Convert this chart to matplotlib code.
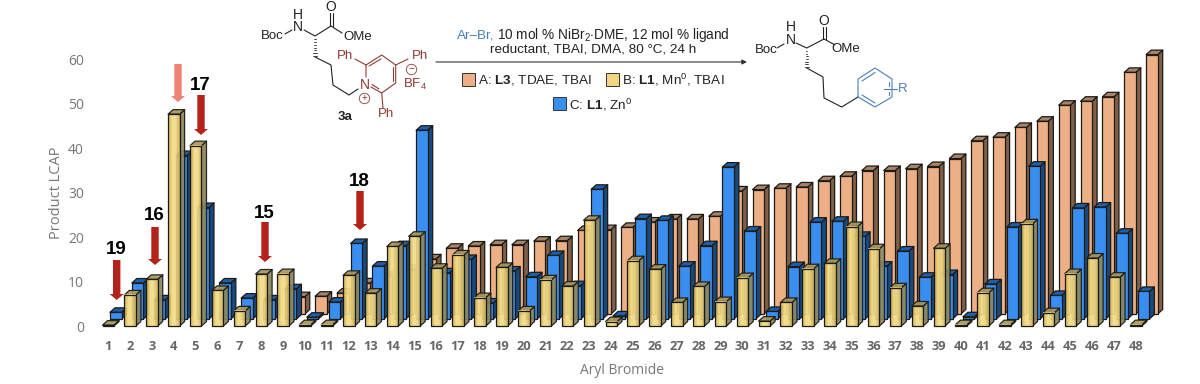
import matplotlib
matplotlib.use("Agg")
import matplotlib.pyplot as plt
from matplotlib.patches import Polygon, Rectangle
from matplotlib.colors import LinearSegmentedColormap

plt.rcParams['font.family'] = ['Liberation Sans', 'DejaVu Sans']
plt.rcParams['mathtext.fontset'] = 'custom'
plt.rcParams['mathtext.rm'] = 'Liberation Sans'
plt.rcParams['mathtext.bf'] = 'Liberation Sans:bold'

bromides = list(range(1, 49))
yticks = [0, 10, 20, 30, 40, 50, 60]

# front face height of each bar
series_a = [0, 0, 0, 0, 0, 0, 0, 0, 3.9, 4, 4.7, 7, 8.5, 10, 12.4, 14.8,
            15.3, 15.6, 15.6, 16.4, 16.5, 18.8, 19, 19.5, 20.7, 21.4, 21.4, 22,
            27.7, 28, 28.3, 28.6, 30, 31, 32.3, 32.3, 32.7, 33.2, 35, 39,
            39.8, 42, 43.4, 47, 47.9, 48.9, 54.4, 58.4]
series_b = [0.2, 7, 10.5, 47.7, 40.6, 8, 3.4, 11.7, 11.8, 0.3, 0.3, 11.4, 7.4, 17.9, 20.2, 13,
            16, 6.4, 13.2, 3.4, 10.4, 9, 23.8, 1, 14.7, 12.8, 5.3, 8.9, 5.5, 10.9, 1.1, 5.3,
            12.9, 14.1, 22.4, 17.4, 8.6, 4.5, 17.5, 0.3, 7.5, 0.3, 23, 3, 11.8, 15.3, 11, 0.3]
series_c = [1.5, 8.1, 4.3, 36.8, 25.1, 8.1, 4.7, 4.3, 6.8, 0.4, 3.8, 17, 11.9, 16.5, 42.5, 10.4,
            13.4, 3.6, 10.8, 9.5, 14.3, 7.5, 29.2, 0.7, 22.6, 22.2, 11.9, 16.5, 34.2, 19.8, 1.7, 11.8,
            21.8, 22, 18.6, 11.9, 15.3, 9.4, 10, 0.5, 7.9, 20.7, 34.4, 5.3, 25, 25.2, 19.3, 6.2]

# px per unit of the picture
PX_X = 21.87
PX_Y = 4.44
W, H = 1200, 384
bar_w = 11.5 / PX_X
dep_x = 5.0 / PX_X
dep_y = 4.5 / PX_Y

fig = plt.figure(figsize=(12, 3.84), dpi=100)
left, right = 95, 1170
ax = fig.add_axes([left / W, (H - 326) / H, (right - left) / W, (326 - 59.5) / H])
ax.set_xlim(1 + (left - 108) / PX_X, 1 + (right - 108) / PX_X)
ax.set_ylim(0, 60)
ax.autoscale(False)
for s in ax.spines.values():
    s.set_visible(False)
ax.patch.set_alpha(0)

gold = LinearSegmentedColormap.from_list('gold', ['#D8BA60', '#F3DC88', '#F3DC88', '#D8BA60'])


def bar3d(x, v, off_x, off_y, front, side, top, alpha, z):
    x0 = x - 5.5 / PX_X + off_x
    x1 = x0 + bar_w
    y0 = off_y
    y1 = off_y + v
    kw = dict(edgecolor='#1c1a14', linewidth=0.9, alpha=alpha, clip_on=False, zorder=z, joinstyle='round')
    ax.add_patch(Polygon([(x1, y0), (x1 + dep_x, y0 + dep_y), (x1 + dep_x, y1 + dep_y), (x1, y1)],
                         facecolor=side, **kw))
    ax.add_patch(Polygon([(x0, y1), (x0 + dep_x, y1 + dep_y), (x1 + dep_x, y1 + dep_y), (x1, y1)],
                         facecolor=top, **kw))
    if front == 'gold':
        ax.imshow([[0, 0.33, 0.67, 1]], cmap=gold, extent=(x0, x1, y0, y1), aspect='auto',
                  interpolation='bilinear', alpha=alpha, clip_on=False, zorder=z)
        ax.add_patch(Rectangle((x0, y0), bar_w, v, facecolor='none', edgecolor='#1c1a14', linewidth=0.9,
                               clip_on=False, zorder=z))
    else:
        ax.add_patch(Rectangle((x0, y0), bar_w, v, facecolor=front, **kw))


for x, v in zip(bromides, series_a):
    if v > 0:
        bar3d(x, v, 15.8 / PX_X, 12 / PX_Y, '#EDAF85', '#7E6049', '#A5846A', 1, 2)
for x, v in zip(bromides, series_c):
    bar3d(x, v, 7.5 / PX_X, 7 / PX_Y, '#3A8EF0', '#17497F', '#1E5FA8', 1, 3)
for x, v in zip(bromides, series_b):
    bar3d(x, v, 0, 0, 'gold', '#8C8860', '#A7975F', 0.93, 4)

ax.set_xticks(bromides)
ax.set_xticklabels(bromides, family='Open Sans', fontweight='bold', fontsize=9.3, color='#666666')
ax.set_yticks(yticks)
ax.set_yticklabels(yticks, family='Open Sans', fontsize=10, color='#777777')
ax.tick_params(axis='x', length=0, pad=10)
ax.tick_params(axis='y', length=0, pad=8)

# scheme on top, in pixel coordinates of the picture
ov = fig.add_axes([0, 0, 1, 1], zorder=10)
ov.set_xlim(0, W)
ov.set_ylim(H, 0)
ov.axis('off')

ov.text(57, 193, 'Product LCAP', rotation=90, ha='center', va='center', family='Open Sans', fontsize=10.5, color='#777777')
ov.text(622, 371, 'Aryl Bromide', ha='center', va='center', family='Open Sans', fontsize=10, color='#777777')

RED = '#B3231A'
arrows = [(116.7, 260, 300, '19', 250, RED), (155, 227, 265, '16', 216, RED), (178, 64, 102, None, 0, '#EE8277'),
          (201, 95, 135, '17', 85, RED), (265, 222, 262, '15', 213, RED), (360, 191, 230, '18', 181, RED)]
for ax_x, y0, y1, lab, lab_y, col in arrows:
    ov.add_patch(Polygon([(ax_x - 3.7, y0), (ax_x + 3.7, y0), (ax_x + 3.7, y1 - 6), (ax_x + 7, y1 - 6),
                          (ax_x, y1), (ax_x - 7, y1 - 6), (ax_x - 3.7, y1 - 6)], facecolor=col, edgecolor='none'))
    if lab:
        ov.text(ax_x - 0.5, lab_y, lab, ha='center', va='center', fontsize=13.5, fontweight='bold', color='black')

BLACK = '#222222'
BROWN = '#8E3B36'
BLUE = '#4A7FB5'


def line(pts, col=BLACK, lw=0.8):
    ov.plot([p[0] for p in pts], [p[1] for p in pts], color=col, lw=lw, solid_capstyle='round')


def label(x, y, s, col=BLACK, size=9.5, **kw):
    ov.text(x, y, s, ha='center', va='center', fontsize=size, color=col, **kw)


def hashed(x, y0, y1):
    n = 7
    for i in range(n):
        y = y0 + (y1 - y0) * (i + 0.5) / n
        hw = 0.4 + 1.6 * (i + 0.5) / n
        line([(x - hw, y), (x + hw, y)], lw=0.6)


# left molecule
label(272, 36, 'Boc')
label(298, 27, 'N', size=10)
label(298, 15, 'H', size=10)
label(331, 7, 'O', size=10)
label(358, 37, 'OMe')
label(345, 117, '3a', fontweight='bold')
line([(285, 34), (292, 30)])
line([(304, 30), (315, 36), (331, 26), (342, 33)])
line([(330, 26), (330, 13)])
line([(332.5, 26), (332.5, 13)])
hashed(315, 38, 57)
line([(315, 57), (331, 65), (333, 85), (349, 95), (358, 89)])
line([(366, 77), (366, 65), (381.7, 55), (395.7, 65), (395.7, 83), (381.7, 93), (371, 87)], BROWN)
line([(369, 66), (381, 59)], BROWN)
line([(392.5, 67), (392.5, 81)], BROWN)
line([(379, 89), (372, 84.5)], BROWN)
line([(366, 65), (355, 59)], BROWN)
line([(395.7, 65), (408, 59)], BROWN)
line([(381.7, 93), (383, 108)], BROWN)
label(365, 85, 'N', BROWN, 10)
label(345, 56, 'Ph', BROWN)
label(420, 56, 'Ph', BROWN)
label(386, 114, 'Ph', BROWN)
label(415, 84, r'BF$_4$', BROWN)
for cx, cy, sign in [(411, 69, '\u2212'), (364, 98, '+')]:
    ov.plot(cx, cy, 'o', ms=7.5, mfc='none', mec=BROWN, mew=0.6)
    label(cx, cy - 0.3, sign, BROWN, 7)

# conditions
ov.text(457, 35, 'Ar\u2013Br,', color=BLUE, fontsize=9.7, ha='left', va='center')
ov.text(497, 35, r'10 mol % NiBr$_2$$\cdot$DME, 12 mol % ligand', color=BLACK, fontsize=9.8, ha='left', va='center')
ov.text(593, 50, 'reductant, TBAI, DMA, 80 \u00b0C, 24 h', color=BLACK, fontsize=9.7, ha='center', va='center')
ov.annotate('', xy=(747, 62), xytext=(436, 62), arrowprops=dict(arrowstyle='-|>', color='#333333', lw=0.8, mutation_scale=7, shrinkA=0, shrinkB=0))
legend_rows = [(462, 73, '#EDAF85', r'A: $\mathbf{L3}$, TDAE, TBAI', 478, 80),
               (606, 73, '#F2D682', r'B: $\mathbf{L1}$, Mn$^0$, TBAI', 622, 80),
               (553, 97, '#3A8EF0', r'C: $\mathbf{L1}$, Zn$^0$', 569, 105)]
for sx, sy, col, txt, tx, ty in legend_rows:
    ov.add_patch(Rectangle((sx, sy), 12.5, 12.5, facecolor=col, edgecolor='#333333', lw=0.7))
    ov.text(tx, ty, txt, color=BLACK, fontsize=9.7, ha='left', va='center')

# right molecule
label(766, 50, 'Boc')
label(790.7, 40, 'N', size=10)
label(790.7, 27, 'H', size=10)
label(824, 21, 'O', size=10)
label(846, 49, 'OMe')
line([(777, 48), (784, 44)])
line([(796, 43), (806.7, 48), (824, 39), (835, 45)])
line([(823, 39), (823, 27)])
line([(825.5, 39), (825.5, 27)])
hashed(806.7, 50, 68)
line([(806.7, 68), (823, 77), (824, 98), (841.7, 107), (858, 97)])
line([(858, 97), (858, 79), (875, 68), (892, 79), (892, 97), (875, 107), (858, 97)], BLUE)
line([(862, 81), (875, 72.5)], BLUE)
line([(862, 95), (875, 103)], BLUE)
line([(888.5, 82), (888.5, 86)], BLUE)
line([(888.5, 92), (888.5, 95)], BLUE)
line([(884, 89), (897, 89)], BLUE)
label(903, 89, 'R', BLUE)

fig.savefig('out.png', dpi=100)
